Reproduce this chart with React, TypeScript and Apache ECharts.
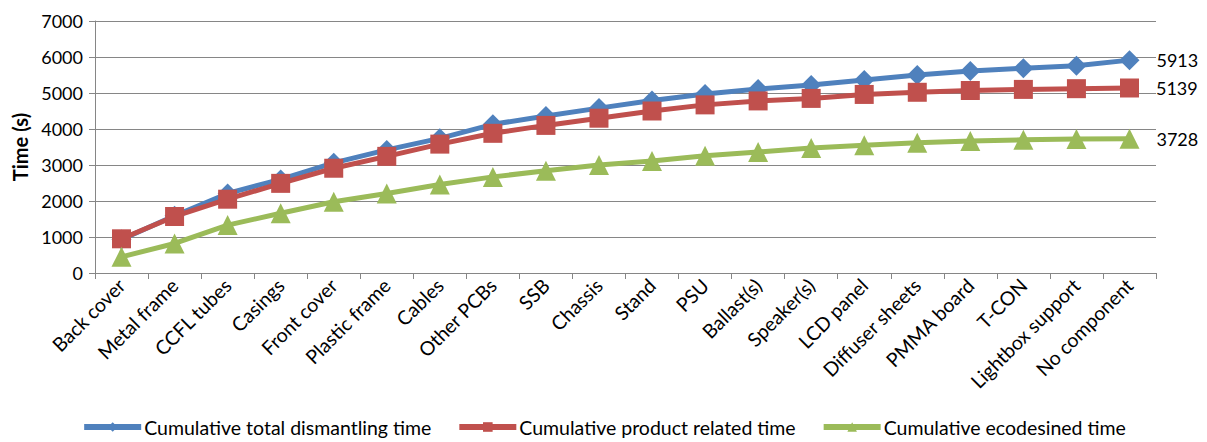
import React, { useEffect, useRef } from "react";
import * as echarts from "echarts";

const categories = [
  "Back cover", "Metal frame", "CCFL tubes", "Casings", "Front cover", "Plastic frame",
  "Cables", "Other PCBs", "SSB", "Chassis", "Stand", "PSU", "Ballast(s)", "Speaker(s)",
  "LCD panel", "Diffuser sheets", "PMMA board", "T-CON", "Lightbox support", "No component",
];
const totalTime = [930, 1590, 2210, 2600, 3060, 3420, 3740, 4130, 4360, 4580, 4790, 4970, 5110, 5220, 5360, 5500, 5610, 5690, 5760, 5913];
const productTime = [950, 1570, 2050, 2490, 2910, 3240, 3580, 3880, 4100, 4300, 4500, 4670, 4780, 4850, 4960, 5020, 5070, 5100, 5120, 5139];
const ecoTime = [450, 820, 1330, 1660, 1980, 2210, 2460, 2670, 2840, 3000, 3110, 3260, 3360, 3470, 3550, 3620, 3670, 3700, 3720, 3728];
const seriesNames = [
  "Cumulative total dismantling time",
  "Cumulative product related time",
  "Cumulative ecodesined time",
];
const yTicks = [0, 1000, 2000, 3000, 4000, 5000, 6000, 7000];

const FONT = "Lato";

export default function App() {
  const ref = useRef<HTMLDivElement>(null);
  useEffect(() => {
    if (!ref.current) return;
    const chart = echarts.init(ref.current, undefined, { renderer: "svg" });
    const last = categories.length - 1;
    const mk = (name: string, data: number[], color: string, symbol: string, size: number) => ({
      name,
      type: "line",
      data: data.map((v, i) =>
        i === last
          ? {
              value: v,
              label: {
                show: true,
                position: "right",
                distance: 17,
                formatter: String(v),
                color: "#000",
                fontSize: 18,
                fontFamily: FONT,
              },
            }
          : v
      ),
      symbol,
      symbolSize: size,
      showSymbol: true,
      lineStyle: { color, width: 5 },
      itemStyle: { color },
      z: 2,
    });
    chart.setOption({
      animation: false,
      textStyle: { fontFamily: FONT },
      grid: { left: 95, right: 51, top: 21, bottom: 169, containLabel: false },
      legend: {
        bottom: 0,
        left: "center",
        itemWidth: 57,
        itemHeight: 12,
        itemGap: 25,
        lineStyle: { width: 6 },
        textStyle: { fontSize: 19.5, color: "#000", fontFamily: FONT, padding: [0, 0, 0, -2] },
        data: seriesNames,
      },
      xAxis: {
        type: "category",
        data: categories,
        boundaryGap: true,
        axisLine: { lineStyle: { color: "#868686", width: 1 } },
        axisTick: { show: true, length: 6, lineStyle: { color: "#868686" } },
        axisLabel: { rotate: 45, fontSize: 19.5, color: "#000", fontFamily: FONT, margin: 9, interval: 0 },
      },
      yAxis: {
        type: "value",
        min: yTicks[0],
        max: yTicks[yTicks.length - 1],
        interval: 1000,
        name: "Time (s)",
        nameLocation: "middle",
        nameGap: 64,
        nameTextStyle: { fontSize: 20, fontWeight: "bold", color: "#000", fontFamily: FONT },
        axisLine: { show: true, lineStyle: { color: "#868686", width: 1 } },
        axisTick: { show: true, length: 6, lineStyle: { color: "#868686" } },
        splitLine: { lineStyle: { color: "#868686", width: 1 } },
        axisLabel: { fontSize: 18, color: "#000", fontFamily: FONT, margin: 12, formatter: (v: number) => String(v) },
      },
      series: [
        mk(seriesNames[0], totalTime, "#4F81BD", "diamond", 20),
        mk(seriesNames[1], productTime, "#C0504D", "rect", 19),
        mk(seriesNames[2], ecoTime, "#9BBB59", "triangle", 20),
      ],
    });
    return () => chart.dispose();
  }, []);
  return (
    <div
      ref={ref}
      style={{ position: "fixed", left: 0, top: 0, width: 1207, height: 442, background: "#fff" }}
    />
  );
}
